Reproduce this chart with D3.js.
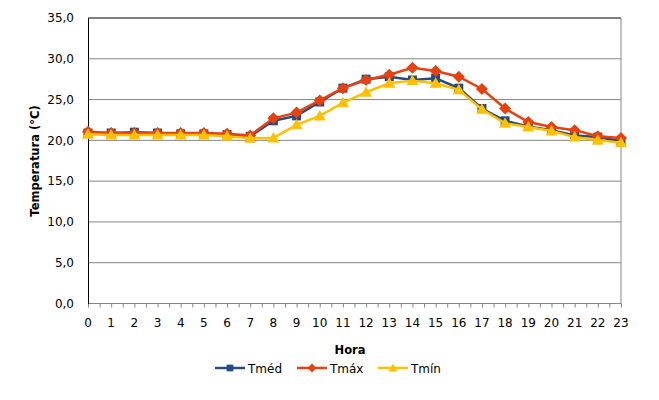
<html>
<head>
<script src="https://cdn.jsdelivr.net/npm/d3@7/dist/d3.min.js"></script>
<style>
  body { margin: 0; background: #fff; }
  text { font-family: "DejaVu Sans", Verdana, sans-serif; }
</style>
</head>
<body>
<script>
// hours 0..23
var hours = d3.range(0, 24);
var yTicks = [0, 5, 10, 15, 20, 25, 30, 35];

var tmed = [20.9, 20.9, 21.0, 20.9, 20.8, 20.8, 20.7, 20.5, 22.4, 23.0, 24.7, 26.4,
            27.5, 27.8, 27.4, 27.6, 26.4, 23.9, 22.4, 21.7, 21.25, 20.6, 20.4, 19.9];
var tmax = [21.05, 20.9, 20.9, 20.9, 20.9, 20.9, 20.8, 20.6, 22.7, 23.4, 24.9, 26.4,
            27.4, 28.05, 28.9, 28.5, 27.8, 26.3, 23.9, 22.25, 21.65, 21.25, 20.5, 20.3];
var tmin = [20.75, 20.65, 20.65, 20.65, 20.65, 20.65, 20.5, 20.25, 20.3, 21.9, 23.0, 24.6,
            25.9, 27.0, 27.3, 27.0, 26.2, 23.8, 22.1, 21.65, 21.15, 20.4, 20.0, 19.7];

var series = [
  {name: "Tméd", values: tmed, color: "#254B82", marker: "square"},
  {name: "Tmáx", values: tmax, color: "#E8400E", marker: "diamond"},
  {name: "Tmín", values: tmin, color: "#FFC000", marker: "triangle"}
];

var width = 659, height = 400,
    plotLeft = 88, plotRight = 621, plotTop = 18, plotBottom = 303.5;

var x = d3.scaleLinear().domain([0, 23]).range([plotLeft, plotRight]);
var y = d3.scaleLinear().domain([0, 35]).range([plotBottom, plotTop]);

var svg = d3.select("body").append("svg")
  .attr("width", width)
  .attr("height", height);

// gridlines
svg.append("g").selectAll("line").data(yTicks.slice(1, -1)).enter().append("line")
  .attr("x1", plotLeft).attr("x2", plotRight)
  .attr("y1", function(d){ return y(d); })
  .attr("y2", function(d){ return y(d); })
  .attr("stroke", "#868686").attr("stroke-width", 1);

// plot border: top black, right gray
svg.append("line").attr("x1", plotLeft).attr("x2", plotRight).attr("y1", y(35)).attr("y2", y(35))
  .attr("stroke", "#000").attr("stroke-width", 1);
svg.append("line").attr("x1", plotRight).attr("x2", plotRight).attr("y1", y(35)).attr("y2", y(0))
  .attr("stroke", "#868686").attr("stroke-width", 1);

// x axis with half-hour ticks
var xAxis = d3.axisBottom(x)
  .tickValues(d3.range(0, 23.01, 0.5))
  .tickSize(4)
  .tickFormat("");
var gx = svg.append("g").attr("transform", "translate(0," + plotBottom + ")").call(xAxis);
gx.selectAll("line, path").attr("stroke", "#868686");
gx.select(".domain").attr("d", "M" + plotLeft + ",0H" + plotRight);

svg.append("g").selectAll("text").data(hours).enter().append("text")
  .attr("x", function(d){ return x(d); })
  .attr("y", plotBottom + 23)
  .attr("text-anchor", "middle")
  .attr("font-size", 12)
  .attr("fill", "#000")
  .text(function(d){ return d; });

// y axis
var yAxis = d3.axisLeft(y)
  .tickValues(yTicks)
  .tickSize(0)
  .tickPadding(14)
  .tickFormat(function(d){ return d3.format(".1f")(d).replace(".", ","); });
var gy = svg.append("g").attr("transform", "translate(" + plotLeft + ",0)").call(yAxis);
gy.select(".domain").attr("stroke", "#000");
gy.selectAll("text").attr("font-size", 12).attr("fill", "#000")
  .style("font-family", "DejaVu Sans, Verdana, sans-serif");

// axis titles
svg.append("text")
  .attr("transform", "translate(39,161) rotate(-90)")
  .attr("text-anchor", "middle")
  .attr("font-size", 11.5)
  .attr("font-weight", "bold")
  .text("Temperatura (°C)");

svg.append("text")
  .attr("x", 350).attr("y", 354)
  .attr("text-anchor", "middle")
  .attr("font-size", 11.5)
  .attr("font-weight", "bold")
  .text("Hora");

function markerPath(type) {
  if (type === "square") return d3.symbol().type(d3.symbolSquare).size(81)();
  if (type === "diamond") return "M0,-6L6,0L0,6L-6,0Z";
  return "M0,-6L6,4.5L-6,4.5Z";
}

var line = d3.line()
  .x(function(d, i){ return x(hours[i]); })
  .y(function(d){ return y(d); });

series.forEach(function(s){
  var g = svg.append("g");
  g.append("path")
    .attr("d", line(s.values))
    .attr("fill", "none")
    .attr("stroke", s.color)
    .attr("stroke-width", 2.5);
  g.selectAll("path.m").data(s.values).enter().append("path")
    .attr("class", "m")
    .attr("d", markerPath(s.marker))
    .attr("transform", function(d, i){ return "translate(" + x(hours[i]) + "," + y(d) + ")"; })
    .attr("fill", s.color);
});

// legend
var legendX = [215, 297, 378];
var lg = svg.append("g").selectAll("g").data(series).enter().append("g")
  .attr("transform", function(d, i){ return "translate(" + legendX[i] + ",368)"; });
lg.append("line")
  .attr("x1", 0).attr("x2", 30)
  .attr("stroke", function(d){ return d.color; })
  .attr("stroke-width", 2.5);
lg.append("path")
  .attr("transform", "translate(15,0) scale(0.75)")
  .attr("d", function(d){ return markerPath(d.marker); })
  .attr("fill", function(d){ return d.color; });
lg.append("text")
  .attr("x", 33).attr("y", 4.5)
  .attr("font-size", 12)
  .text(function(d){ return d.name; });
</script>
</body>
</html>
